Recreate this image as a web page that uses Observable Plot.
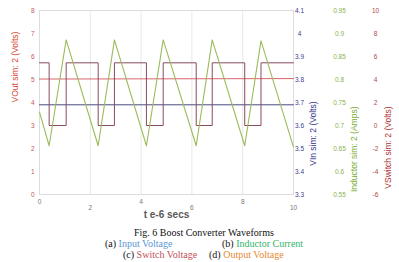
<!DOCTYPE html>
<html><head><meta charset="utf-8">
<script src="https://cdn.jsdelivr.net/npm/d3@7"></script>
<script src="https://cdn.jsdelivr.net/npm/@observablehq/plot@0.6"></script>
<style>
body{margin:0;background:#fff;}
#wrap{position:relative;width:399px;height:262px;overflow:hidden;}
.cap{position:absolute;font-family:"Liberation Serif","Times New Roman",serif;font-size:10px;color:#111;white-space:nowrap;line-height:11px;}
</style></head><body>
<div id="wrap"><div id="chart"></div>
<div class="cap" style="left:134px;top:227px">Fig. 6 Boost Converter Waveforms</div>
<div class="cap" style="left:105px;top:238px">(a) <span style="color:#5b95d6">Input Voltage</span></div>
<div class="cap" style="left:222px;top:238px">(b) <span style="color:#36b36a">Inductor Current</span></div>
<div class="cap" style="left:123px;top:249px">(c) <span style="color:#c4505a">Switch Voltage</span></div>
<div class="cap" style="left:209px;top:249px">(d) <span style="color:#e8892e">Output Voltage</span></div>
</div>
<script>
// ---- data ----
const dcTime = [0, 10];
const voutValues = [5.02, 5.04];           // Volts (left axis)
const vinValues = [3.69, 3.69];            // Volts (VIn axis)
const swTime = [0, 0.38, 1.05, 2.31, 2.95, 4.21, 4.87, 6.17, 6.80, 8.08, 8.72, 10];
const swValues = [5.45, 0, 5.45, 0, 5.45, 0, 5.45, 0, 5.45, 0, 5.45, 5.45]; // Volts
const ilTime = [0, 0.38, 1.05, 2.31, 2.95, 4.21, 4.87, 6.17, 6.80, 8.08, 8.72, 10];
const ilValues = [0.729, 0.656, 0.886, 0.656, 0.886, 0.656, 0.886, 0.656, 0.886, 0.656, 0.884, 0.653]; // Amps

const xTicksUpper = [0, 4, 8];
const xTicksLower = [2, 6, 10];
const voutTicks = [0, 1, 2, 3, 4, 5, 6, 7, 8];
const vinTicks = [3.3, 3.4, 3.5, 3.6, 3.7, 3.8, 3.9, 4.0, 4.1];
const ilTicks = [0.55, 0.6, 0.65, 0.7, 0.75, 0.8, 0.85, 0.9, 0.95];
const swTicks = [-6, -4, -2, 0, 2, 4, 6, 8, 10];

// secondary axes mapped onto the primary y domain
const vinMap = d3.scaleLinear([3.3, 4.1], [0, 8]);
const ilMap = d3.scaleLinear([0.55, 0.95], [0, 8]);
const swMap = d3.scaleLinear([-6, 10], [0, 8]);
const fmt = v => String(+v.toFixed(2));

const dc = dcTime.map((t, i) => ({t, vout: voutValues[i], vin: vinValues[i]}));
const sw = swTime.map((t, i) => ({t, v: swValues[i]}));
const il = ilTime.map((t, i) => ({t, a: ilValues[i]}));

const tickStyle = {tickSize: 0, fontSize: 6.5, label: null};

const chart = Plot.plot({
  width: 399, height: 222,
  marginTop: 10, marginBottom: 28, marginLeft: 39, marginRight: 106,
  style: {fontFamily: "'Liberation Sans', Arial, sans-serif", background: "transparent"},
  x: {domain: [0, 10]},
  y: {domain: [0, 8]},
  marks: [
    Plot.gridX([2, 4, 6, 8], {stroke: "#e8e8e8", strokeOpacity: 1}),
    Plot.frame({stroke: "#dddddd"}),
    Plot.axisX(xTicksUpper, {...tickStyle, tickPadding: 5, fill: "#777"}),
    Plot.axisX(xTicksLower, {...tickStyle, tickPadding: 11, fill: "#777"}),
    Plot.axisY(voutTicks, {...tickStyle, tickPadding: 5, fill: "#c45a50"}),
    Plot.axisY(vinTicks.map(vinMap), {...tickStyle, anchor: "right", tickPadding: 6, textAnchor: "middle", fill: "#3d3d8f", tickFormat: d => fmt(vinMap.invert(d))}),
    Plot.axisY(ilTicks.map(ilMap), {...tickStyle, anchor: "right", tickPadding: 46, textAnchor: "middle", fill: "#8db24a", tickFormat: d => fmt(ilMap.invert(d))}),
    Plot.axisY(swTicks.map(swMap), {...tickStyle, anchor: "right", tickPadding: 82, textAnchor: "middle", fill: "#b04848", tickFormat: d => fmt(swMap.invert(d))}),
    Plot.line(dc, {x: "t", y: "vout", stroke: "#d8666a", strokeWidth: 1}),
    Plot.line(dc, {x: "t", y: d => vinMap(d.vin), stroke: "#4a4a80", strokeWidth: 1}),
    Plot.line(sw, {x: "t", y: d => swMap(d.v), curve: "step-after", stroke: "#8a4a60", strokeWidth: 1}),
    Plot.line(il, {x: "t", y: d => ilMap(d.a), stroke: "#9bbb5a", strokeWidth: 1.1}),
    Plot.text(["VOut sim: 2 (Volts)"], {text: d => d, frameAnchor: "left", dx: -24, rotate: -90, fill: "#d4462f", fontSize: 8.5}),
    Plot.text(["VIn sim: 2 (Volts)"], {text: d => d, frameAnchor: "right", dx: 20, dy: -1, rotate: -90, fill: "#33338a", fontSize: 8.5}),
    Plot.text(["Inductor sim: 2 (Amps)"], {text: d => d, frameAnchor: "right", dx: 61, dy: 4, rotate: -90, fill: "#7cab30", fontSize: 8.5}),
    Plot.text(["VSwitch sim: 2 (Volts)"], {text: d => d, frameAnchor: "right", dx: 95, dy: 4, rotate: -90, fill: "#b03030", fontSize: 8.5}),
    Plot.text(["t e-6 secs"], {text: d => d, frameAnchor: "bottom", dy: 23, fill: "#5a5a5a", fontSize: 10, fontWeight: "bold"})
  ]
});
document.getElementById("chart").appendChild(chart);
</script>
</body></html>
